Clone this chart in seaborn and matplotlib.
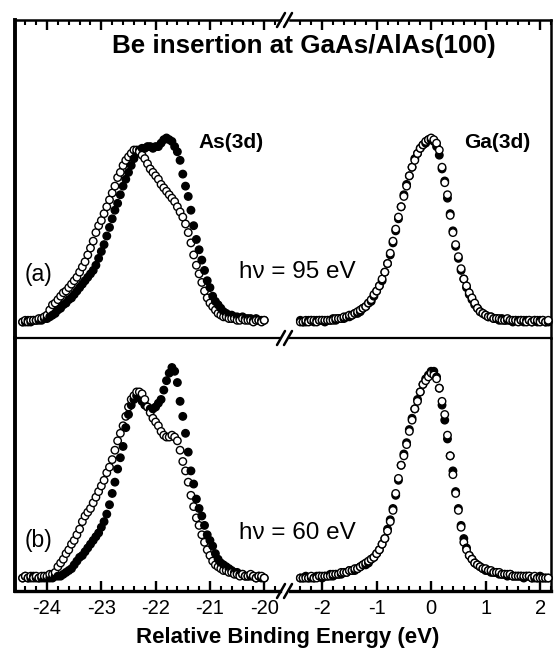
import numpy as np
import pandas as pd
import matplotlib
matplotlib.use("Agg")
import matplotlib.pyplot as plt
import seaborn as sns
from matplotlib.lines import Line2D
from matplotlib.ticker import MultipleLocator

# ---- data (intensity normalised to open As peak) ----
AS_E = np.round(np.arange(-24.45, -19.99, 0.05), 2)   # As(3d) energies, eV
GA_E = np.round(np.arange(-2.40, 2.16, 0.05), 2)      # Ga(3d) energies, eV

as_a_open = [
    0.00, 0.01, 0.00, 0.01, 0.01, 0.01, 0.02, 0.02, 0.03, 0.04,
    0.07, 0.10, 0.11, 0.13, 0.15, 0.17, 0.18, 0.20, 0.22, 0.24,
    0.26, 0.29, 0.32, 0.35, 0.39, 0.43, 0.47, 0.52, 0.56, 0.59,
    0.63, 0.67, 0.71, 0.75, 0.79, 0.84, 0.87, 0.91, 0.94, 0.96,
    0.98, 1.00, 1.00, 0.99, 0.97, 0.95, 0.92, 0.89, 0.87, 0.85,
    0.83, 0.80, 0.78, 0.76, 0.74, 0.72, 0.70, 0.67, 0.64, 0.61,
    0.57, 0.52, 0.46, 0.39, 0.33, 0.28, 0.23, 0.18, 0.14, 0.11,
    0.09, 0.07, 0.05, 0.04, 0.03, 0.03, 0.02, 0.02, 0.02, 0.01,
    0.01, 0.02, 0.01, 0.01, 0.01, 0.00, 0.01, 0.01, 0.00, 0.01,
]
as_a_filled = [
    0.00, 0.00, 0.01, 0.00, 0.01, 0.01, 0.01, 0.01, 0.02, 0.02,
    0.03, 0.04, 0.05, 0.07, 0.08, 0.10, 0.11, 0.13, 0.14, 0.16,
    0.18, 0.20, 0.22, 0.24, 0.26, 0.28, 0.30, 0.33, 0.37, 0.41,
    0.45, 0.50, 0.55, 0.60, 0.65, 0.69, 0.74, 0.79, 0.83, 0.87,
    0.91, 0.95, 0.98, 1.00, 1.01, 1.01, 1.02, 1.02, 1.01, 1.02,
    1.02, 1.04, 1.06, 1.07, 1.06, 1.05, 1.02, 0.99, 0.94, 0.86,
    0.79, 0.73, 0.65, 0.56, 0.48, 0.42, 0.36, 0.30, 0.24, 0.20,
    0.15, 0.12, 0.10, 0.08, 0.06, 0.05, 0.04, 0.04, 0.03, 0.03,
    0.02, 0.03, 0.02, 0.02, 0.02, 0.01, 0.02, 0.01, 0.01, 0.01,
]
as_b_open = [
    0.01, 0.02, 0.01, 0.02, 0.01, 0.02, 0.01, 0.02, 0.02, 0.02,
    0.03, 0.03, 0.04, 0.07, 0.09, 0.11, 0.14, 0.16, 0.19, 0.21,
    0.24, 0.27, 0.31, 0.34, 0.36, 0.38, 0.41, 0.44, 0.47, 0.50,
    0.53, 0.57, 0.60, 0.64, 0.69, 0.74, 0.78, 0.82, 0.87, 0.92,
    0.96, 0.98, 1.00, 1.00, 0.99, 0.96, 0.92, 0.89, 0.86, 0.84,
    0.82, 0.79, 0.77, 0.76, 0.76, 0.77, 0.76, 0.74, 0.69, 0.63,
    0.58, 0.52, 0.45, 0.39, 0.33, 0.29, 0.24, 0.20, 0.16, 0.13,
    0.10, 0.08, 0.07, 0.06, 0.05, 0.05, 0.04, 0.04, 0.03, 0.03,
    0.02, 0.03, 0.02, 0.02, 0.03, 0.02, 0.01, 0.02, 0.02, 0.01,
]
as_b_filled = [
    0.01, 0.02, 0.01, 0.01, 0.02, 0.01, 0.01, 0.01, 0.01, 0.01,
    0.01, 0.01, 0.02, 0.02, 0.02, 0.03, 0.04, 0.05, 0.06, 0.08,
    0.10, 0.12, 0.13, 0.15, 0.17, 0.19, 0.21, 0.23, 0.25, 0.28,
    0.31, 0.35, 0.40, 0.46, 0.52, 0.59, 0.65, 0.71, 0.81, 0.88,
    0.93, 0.96, 0.98, 0.97, 0.95, 0.93, 0.92, 0.91, 0.91, 0.92,
    0.94, 0.96, 1.01, 1.06, 1.10, 1.13, 1.11, 1.05, 0.95, 0.87,
    0.78, 0.68, 0.58, 0.51, 0.43, 0.38, 0.34, 0.29, 0.24, 0.21,
    0.18, 0.14, 0.11, 0.09, 0.08, 0.07, 0.06, 0.05, 0.04, 0.04,
    0.03, 0.03, 0.02, 0.02, 0.02, 0.02, 0.01, 0.02, 0.01, 0.01,
]
ga_a_open = [
    0.00, 0.00, 0.01, 0.00, 0.01, 0.01, 0.00, 0.01, 0.01, 0.01,
    0.01, 0.01, 0.01, 0.02, 0.02, 0.02, 0.03, 0.03, 0.04, 0.04,
    0.05, 0.06, 0.07, 0.08, 0.09, 0.11, 0.13, 0.16, 0.18, 0.21,
    0.25, 0.29, 0.34, 0.40, 0.47, 0.54, 0.61, 0.67, 0.73, 0.79,
    0.85, 0.90, 0.94, 0.98, 1.01, 1.03, 1.05, 1.06, 1.07, 1.06,
    1.04, 1.00, 0.90, 0.81, 0.74, 0.62, 0.52, 0.45, 0.38, 0.31,
    0.25, 0.21, 0.17, 0.14, 0.11, 0.08, 0.06, 0.05, 0.04, 0.03,
    0.03, 0.02, 0.02, 0.02, 0.01, 0.01, 0.02, 0.01, 0.01, 0.01,
    0.00, 0.01, 0.01, 0.00, 0.01, 0.00, 0.01, 0.01, 0.00, 0.01,
    0.00, 0.01,
]
ga_a_filled = [
    0.01, 0.00, 0.00, 0.01, 0.01, 0.00, 0.01, 0.01, 0.01, 0.00,
    0.01, 0.01, 0.02, 0.01, 0.02, 0.02, 0.02, 0.03, 0.03, 0.04,
    0.05, 0.05, 0.06, 0.08, 0.09, 0.11, 0.12, 0.15, 0.18, 0.21,
    0.24, 0.29, 0.34, 0.39, 0.46, 0.53, 0.60, 0.67, 0.74, 0.80,
    0.85, 0.90, 0.95, 0.98, 1.01, 1.03, 1.04, 1.06, 1.06, 1.05,
    1.02, 0.97, 0.89, 0.82, 0.72, 0.63, 0.53, 0.44, 0.37, 0.30,
    0.25, 0.20, 0.16, 0.13, 0.10, 0.08, 0.06, 0.05, 0.04, 0.03,
    0.03, 0.02, 0.02, 0.01, 0.02, 0.01, 0.01, 0.01, 0.00, 0.01,
    0.01, 0.01, 0.00, 0.01, 0.01, 0.00, 0.01, 0.00, 0.01, 0.01,
    0.00, 0.00,
]
ga_b_open = [
    0.01, 0.01, 0.01, 0.01, 0.02, 0.01, 0.01, 0.02, 0.02, 0.02,
    0.02, 0.02, 0.03, 0.03, 0.03, 0.04, 0.04, 0.04, 0.05, 0.05,
    0.06, 0.06, 0.07, 0.08, 0.09, 0.10, 0.11, 0.12, 0.14, 0.16,
    0.19, 0.22, 0.26, 0.31, 0.37, 0.46, 0.54, 0.61, 0.66, 0.72,
    0.79, 0.85, 0.91, 0.95, 1.00, 1.04, 1.06, 1.08, 1.10, 1.09,
    1.07, 1.02, 0.95, 0.88, 0.77, 0.66, 0.56, 0.46, 0.37, 0.28,
    0.20, 0.16, 0.13, 0.11, 0.09, 0.08, 0.07, 0.06, 0.06, 0.05,
    0.05, 0.04, 0.04, 0.04, 0.03, 0.03, 0.03, 0.03, 0.02, 0.02,
    0.02, 0.02, 0.02, 0.02, 0.02, 0.01, 0.02, 0.01, 0.01, 0.01,
    0.01, 0.01,
]
ga_b_filled = [
    0.01, 0.01, 0.02, 0.01, 0.01, 0.01, 0.02, 0.02, 0.01, 0.02,
    0.02, 0.03, 0.02, 0.03, 0.03, 0.03, 0.04, 0.04, 0.05, 0.05,
    0.05, 0.06, 0.07, 0.08, 0.08, 0.09, 0.11, 0.12, 0.14, 0.16,
    0.19, 0.22, 0.27, 0.32, 0.38, 0.45, 0.53, 0.61, 0.67, 0.73,
    0.80, 0.86, 0.91, 0.96, 1.00, 1.04, 1.07, 1.09, 1.11, 1.11,
    1.08, 1.02, 0.93, 0.85, 0.75, 0.66, 0.58, 0.47, 0.38, 0.29,
    0.22, 0.17, 0.13, 0.11, 0.09, 0.08, 0.07, 0.06, 0.05, 0.05,
    0.04, 0.04, 0.04, 0.03, 0.03, 0.03, 0.02, 0.03, 0.02, 0.02,
    0.02, 0.02, 0.01, 0.02, 0.02, 0.01, 0.01, 0.01, 0.02, 0.01,
    0.01, 0.01,
]

PANELS = ["(a)", "(b)"]
PHOTON = ["h\u03bd = 95 eV", "h\u03bd = 60 eV"]

# ---- style ----
sns.set_theme(style="white", rc={"axes.edgecolor": "black", "xtick.color": "black",
                                 "text.color": "black"})
plt.rcParams["font.family"] = ["Liberation Sans", "DejaVu Sans"]
plt.rcParams["axes.unicode_minus"] = False

W, H = 557, 662
XL0, XL1, XR0, XR1 = 15, 280, 290, 551
ROWS = [(20, 338), (338, 591)]
XLIM_L = (-24.59, -19.71)
XLIM_R = (-2.59, 2.20)
YLIMS = [(-0.093, 1.756), (-0.059, 1.287)]


def px_rect(x0, y0, x1, y1):
    return [x0 / W, 1 - y1 / H, (x1 - x0) / W, (y1 - y0) / H]


def spectrum_frame(energy, open_vals, filled_vals):
    # filled first, open second at each energy -> the two sets interleave when drawn
    df = pd.concat([
        pd.DataFrame({"E": energy, "I": filled_vals, "kind": "filled"}),
        pd.DataFrame({"E": energy, "I": open_vals, "kind": "open"}),
    ], ignore_index=True)
    return df.sort_values("E", kind="stable")


fig = plt.figure(figsize=(W / 100, H / 100), dpi=100)

data = [
    (spectrum_frame(AS_E, as_a_open, as_a_filled), spectrum_frame(GA_E, ga_a_open, ga_a_filled)),
    (spectrum_frame(AS_E, as_b_open, as_b_filled), spectrum_frame(GA_E, ga_b_open, ga_b_filled)),
]

for row, (y0, y1) in enumerate(ROWS):
    is_top = row == 0
    for side, (x0, x1, xlim) in enumerate([(XL0, XL1, XLIM_L), (XR0, XR1, XLIM_R)]):
        ax = fig.add_axes(px_rect(x0, y0, x1, y1))
        sns.scatterplot(data=data[row][side], x="E", y="I", hue="kind",
                        palette={"open": "white", "filled": "black"},
                        edgecolor="black", linewidth=1.0, s=29, legend=False,
                        ax=ax, zorder=3, clip_on=False)
        ax.set_xlim(*xlim)
        ax.set_ylim(*YLIMS[row])
        ax.set_xlabel("")
        ax.set_ylabel("")
        ax.set_yticks([])
        ax.xaxis.set_major_locator(MultipleLocator(1))
        ax.xaxis.set_minor_locator(MultipleLocator(0.2))
        ax.tick_params(axis="x", which="both", direction="in", top=is_top,
                       bottom=not is_top, labelbottom=not is_top, labeltop=False)
        ax.tick_params(axis="x", which="major", length=7, width=1.7, pad=6, labelsize=14.5)
        ax.tick_params(axis="x", which="minor", length=3.5, width=1.5)
        for name, sp in ax.spines.items():
            sp.set_linewidth(1.8)
        ax.spines["right" if side == 0 else "left"].set_visible(False)
        if side == 0:
            ax.spines["left"].set_linewidth(2.8)
        if not is_top:
            ax.spines["top"].set_visible(False)
            ax.spines["bottom"].set_linewidth(2.4)
        else:
            ax.spines["bottom"].set_linewidth(1.6)
        ax.patch.set_alpha(0)

# axis-break marks "//"
for yb in (20, 338, 591):
    for dx in (-4, 3):
        cx = 285 + dx
        fig.add_artist(Line2D([(cx - 4) / W, (cx + 4) / W], [1 - (yb + 7) / H, 1 - (yb - 7) / H],
                              transform=fig.transFigure, color="black", lw=1.8))

fig.text(304 / W, 1 - 46 / H, "Be insertion at GaAs/AlAs(100)", ha="center", va="center",
         fontsize=18.7, fontweight="bold")
fig.text(231 / W, 1 - 142 / H, "As(3d)", ha="center", va="center", fontsize=15, fontweight="bold")
fig.text(497 / W, 1 - 142 / H, "Ga(3d)", ha="center", va="center", fontsize=15, fontweight="bold")
for (y0, y1), lab, hv, ly, hy in zip(ROWS, PANELS, PHOTON, (274, 541), (272, 533)):
    fig.text(38 / W, 1 - ly / H, lab, ha="center", va="center", fontsize=16.5)
    fig.text(297 / W, 1 - hy / H, hv, ha="center", va="center", fontsize=17.5)
fig.text(288 / W, 1 - 637 / H, "Relative Binding Energy (eV)", ha="center", va="center",
         fontsize=16, fontweight="bold")

fig.savefig("out.png", dpi=100)
